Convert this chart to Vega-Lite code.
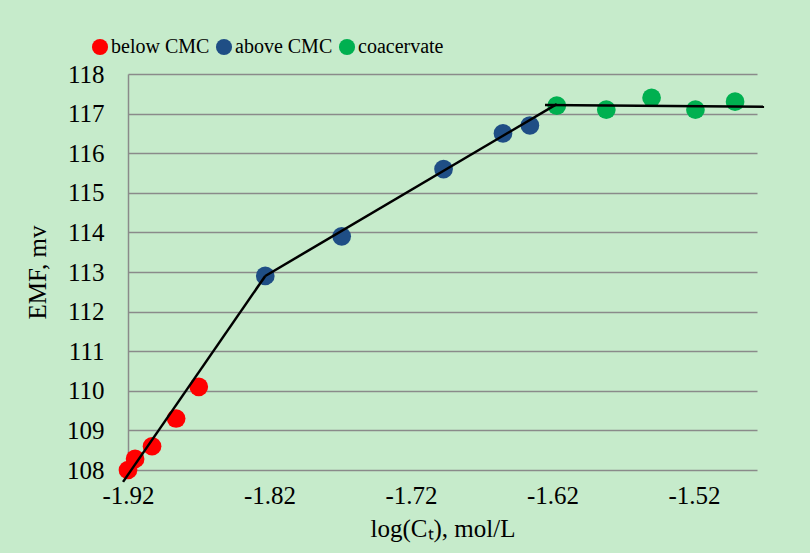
{
  "$schema": "https://vega.github.io/schema/vega-lite/v6.json",
  "width": 629,
  "height": 396,
  "autosize": {"type": "none"},
  "padding": {"left": 128, "top": 74, "right": 53, "bottom": 83},
  "background": "#c6ebcb",
  "config": {
    "view": {"stroke": null},
    "font": "Liberation Serif",
    "axis": {"labelFont": "Liberation Serif", "titleFont": "Liberation Serif", "labelColor": "#000", "titleColor": "#000", "titleFontWeight": "normal"},
    "legend": {"labelFont": "Liberation Serif", "labelFontSize": 20, "labelColor": "#000", "symbolSize": 260, "symbolType": "circle", "symbolOpacity": 1, "labelOffset": 1, "columnPadding": 4}
  },
  "datasets": {
    "pts": [
      {"x": -1.920, "y": 108.0, "phase": "below CMC"},
      {"x": -1.915, "y": 108.28, "phase": "below CMC"},
      {"x": -1.903, "y": 108.6, "phase": "below CMC"},
      {"x": -1.886, "y": 109.3, "phase": "below CMC"},
      {"x": -1.870, "y": 110.1, "phase": "below CMC"},
      {"x": -1.823, "y": 112.9, "phase": "above CMC"},
      {"x": -1.769, "y": 113.9, "phase": "above CMC"},
      {"x": -1.697, "y": 115.6, "phase": "above CMC"},
      {"x": -1.655, "y": 116.5, "phase": "above CMC"},
      {"x": -1.636, "y": 116.7, "phase": "above CMC"},
      {"x": -1.617, "y": 117.2, "phase": "coacervate"},
      {"x": -1.582, "y": 117.1, "phase": "coacervate"},
      {"x": -1.550, "y": 117.4, "phase": "coacervate"},
      {"x": -1.519, "y": 117.1, "phase": "coacervate"},
      {"x": -1.491, "y": 117.3, "phase": "coacervate"}
    ],
    "fits": [
      {"x": -1.9235, "y": 107.70, "seg": "a"},
      {"x": -1.823, "y": 112.9, "seg": "a"},
      {"x": -1.823, "y": 112.9, "seg": "b"},
      {"x": -1.617, "y": 117.24, "seg": "b"},
      {"x": -1.6253, "y": 117.22, "seg": "c"},
      {"x": -1.4705, "y": 117.17, "seg": "c"}
    ]
  },
  "encoding": {
    "x": {
      "field": "x", "type": "quantitative",
      "scale": {"domain": [-1.92, -1.4755], "nice": false, "zero": false},
      "axis": {
        "title": "log(Cₜ), mol/L", "values": [-1.92, -1.82, -1.72, -1.62, -1.52],
        "tickCount": 20,
        "labelExpr": "replace(format(datum.value, '.2f'), '−', '-')",
        "grid": false, "domain": false, "ticks": false, "labelOverlap": false,
        "labelFontSize": 25, "titleFontSize": 25, "labelPadding": 13, "titlePadding": 8,
        "labelFlush": false
      }
    },
    "y": {
      "field": "y", "type": "quantitative",
      "scale": {"domain": [108, 118], "nice": false, "zero": false},
      "axis": {
        "title": "EMF, mv", "values": [108, 109, 110, 111, 112, 113, 114, 115, 116, 117, 118],
        "tickCount": 20, "format": "d",
        "grid": true, "gridColor": "#8a8a8a", "gridWidth": 1.5, "labelOverlap": false,
        "domain": true, "domainColor": "#8a8a8a", "domainWidth": 1.5,
        "ticks": false, "labelFontSize": 25, "titleFontSize": 25,
        "labelPadding": 24, "titlePadding": 16
      }
    }
  },
  "layer": [
    {
      "data": {"name": "pts"},
      "mark": {"type": "circle", "size": 350, "opacity": 1},
      "encoding": {
        "color": {
          "field": "phase", "type": "nominal",
          "scale": {"domain": ["below CMC", "above CMC", "coacervate"], "range": ["#ff0000", "#1f4e85", "#00b050"]},
          "legend": {
            "title": null, "orient": "none", "direction": "horizontal",
            "legendX": -38, "legendY": -37
          }
        }
      }
    },
    {
      "data": {"name": "fits"},
      "mark": {"type": "line", "color": "#000", "strokeWidth": 2.5},
      "encoding": {
        "detail": {"field": "seg", "type": "nominal"}
      }
    }
  ]
}
